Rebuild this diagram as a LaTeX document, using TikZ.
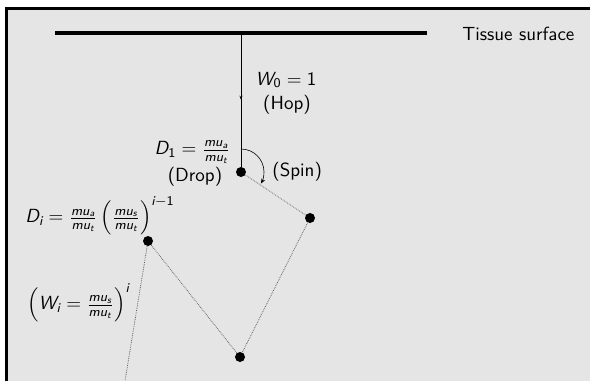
\documentclass[tikz,border=0pt]{standalone}
\usepackage{amsmath}
\usetikzlibrary{arrows.meta,calc}
\definecolor{bggray}{RGB}{229,229,229}
\newcommand\sv[1]{\text{\sffamily\itshape #1}}
\newcommand\sd[1]{\text{\sffamily #1}}
\begin{document}
\begin{tikzpicture}[x=1pt,y=-1pt,
  lbl/.style={font=\fontsize{10}{12}\selectfont\sffamily, inner sep=0pt, scale=1.9, transform shape},
  dot/.style={circle, fill=black, inner sep=0pt, minimum size=10pt},
  walk/.style={densely dotted, line width=0.8pt, black!60},
  surface/.style={line width=3.2pt}]
\useasboundingbox (0,0) rectangle (590,381);
\fill[white] (0,0) rectangle (590,381);
\fill[bggray] (6.5,8) rectangle (590,381);
\draw[line width=3pt] (6.5,381) -- (6.5,8) -- (590,8);
% surface
\coordinate (sl) at (55,33);
\coordinate (sr) at (427,33);
\coordinate (entry) at (241,33);
\draw[surface] (sl) -- (sr);
\node[lbl, anchor=west] (ts) at (462,34) {Tissue surface};
% dots
\node[dot] (p1) at (241,172) {};
\node[dot] (p2) at (310,218) {};
\node[dot] (p3) at (148,241) {};
\node[dot] (p4) at (240,357) {};
\coordinate (pout) at (125,381);
% hop
\draw[line width=0.6pt, -{Stealth[length=4pt,width=3pt]}] (entry) -- ($(entry)!0.48!(p1)$);
\draw[line width=0.6pt] ($(entry)!0.45!(p1)$) -- (p1);
% walk
\draw[walk] (p1) -- (p2) -- (p4) -- (p3) -- (pout);
% spin arc
\draw[line width=0.6pt, -{Stealth[length=5pt,width=4pt]}] ([shift={(-90:23)}]p1) arc[start angle=-90, end angle=30, radius=23];
% labels
\node[lbl] (w0) at (286,80) {$\sv{W}_{\sd{0}} = \sd{1}$};
\node[lbl] (hop) at (287,105) {(Hop)};
\node[lbl, anchor=east] (d1) at (231,152) {$\sv{D}_{\sd{1}} = \frac{\sv{mu}_{\sv{a}}}{\sv{mu}_{\sv{t}}}$};
\node[lbl] (drop) at (195,177) {(Drop)};
\node[lbl, anchor=west] (spin) at (272,172) {(Spin)};
\node[lbl, anchor=west] (di) at (25,216) {$\sv{D}_{\sv{i}} = \frac{\sv{mu}_{\sv{a}}}{\sv{mu}_{\sv{t}}}\left(\frac{\sv{mu}_{\sv{s}}}{\sv{mu}_{\sv{t}}}\right)^{\sv{i}-\sd{1}}$};
\node[lbl, anchor=west] (wi) at (27,303) {$\left(\sv{W}_{\sv{i}} = \frac{\sv{mu}_{\sv{s}}}{\sv{mu}_{\sv{t}}}\right)^{\sv{i}}$};
\end{tikzpicture}
\end{document}
